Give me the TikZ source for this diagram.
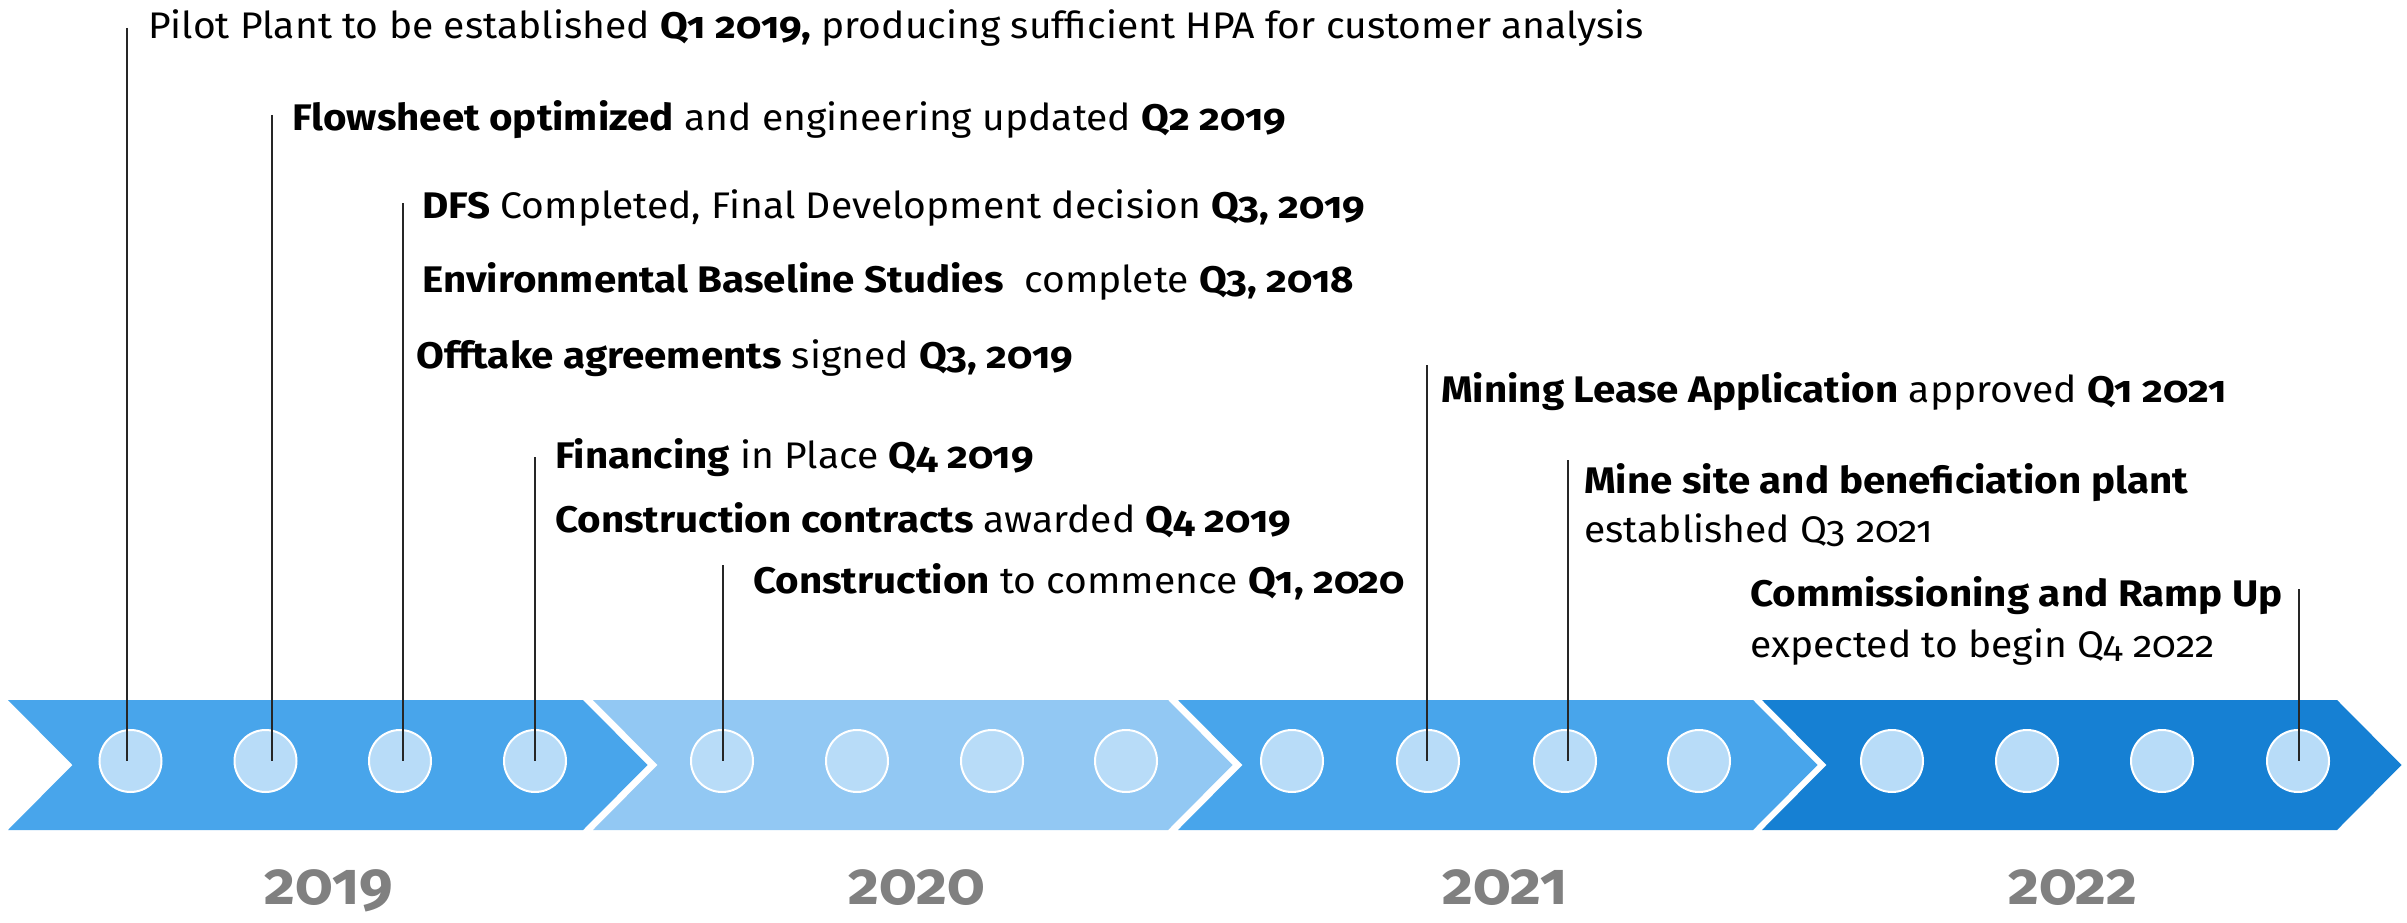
\documentclass[tikz,border=0pt]{standalone}
\usepackage{fontspec}
\setmainfont{Fira Sans}[Numbers=OldStyle, UprightFeatures={FakeStretch=1.055}, BoldFont={Fira Sans Bold}, BoldFeatures={FakeStretch=1.09}]
\newfontfamily\yrfont{Fira Sans Bold}[Numbers=OldStyle]
\begin{document}
\begin{tikzpicture}[x=1pt,y=-1pt,
  dot/.style={circle,fill=dotc,draw=white,line width=2pt,minimum size=62pt,inner sep=0pt},
  lead/.style={line width=1.5pt,draw=black!85},
  lbl/.style={anchor=base west,inner sep=0pt,font=\fontsize{37}{44}\selectfont},
  yr/.style={anchor=base,inner sep=0pt,text=yrc,font=\fontsize{60}{66}\selectfont\yrfont}]
\definecolor{cA}{RGB}{72,165,235}
\definecolor{cB}{RGB}{146,200,243}
\definecolor{cD}{RGB}{22,128,211}
\definecolor{dotc}{RGB}{184,220,248}
\definecolor{yrc}{RGB}{128,128,128}
\useasboundingbox (0,0) rectangle (2407,923);
\fill[white] (0,0) rectangle (2407,923);
% chevrons
\foreach \x/\c in {8/cA,593/cB,1178/cA,1762/cD}{
  \fill[\c] (\x,700) -- ({\x+575},700) -- ({\x+639.5},765) -- ({\x+575},830) -- (\x,830) -- ({\x+64.5},765) -- cycle;
}
% circles
\foreach \n/\x in {1/130.5,2/265.5,3/400,4/535,5/722,6/857,7/992,8/1126,9/1292,10/1428,11/1565,12/1699,13/1892,14/2027,15/2162,16/2298}{
  \node[dot] (c\n) at (\x,761) {};
}
% leader tops
\coordinate (t1) at (127,28);
\coordinate (t2) at (272,115);
\coordinate (t3) at (403,203);
\coordinate (t4) at (535,457);
\coordinate (t5) at (723,565);
\coordinate (t6) at (1427,365);
\coordinate (t7) at (1568,460);
\coordinate (t8) at (2299,589);
\draw[lead] (t1) -- (t1 |- c1.center);
\draw[lead] (t2) -- (t2 |- c2.center);
\draw[lead] (t3) -- (t3 |- c3.center);
\draw[lead] (t4) -- (t4 |- c4.center);
\draw[lead] (t5) -- (t5 |- c5.center);
\draw[lead] (t6) -- (t6 |- c10.center);
\draw[lead] (t7) -- (t7 |- c11.center);
\draw[lead] (t8) -- (t8 |- c16.center);
% labels
\node[lbl] (m1) at (148,39) {Pilot Plant to be established \textbf{Q1 2019,} producing sufficient HPA for customer analysis};
\node[lbl] (m2) at (292,131) {\textbf{Flowsheet optimized} and engineering updated \textbf{Q2 2019}};
\node[lbl] (m3) at (422,218) {\textbf{DFS} Completed, Final Development decision \textbf{Q3, 2019}};
\node[lbl] (m4) at (422,292) {\textbf{Environmental Baseline Studies}\ \ complete \textbf{Q3, 2018}};
\node[lbl] (m5) at (416,368) {\textbf{Offtake agreements} signed \textbf{Q3, 2019}};
\node[lbl] (m6) at (555,468) {\textbf{Financing} in Place \textbf{Q4 2019}};
\node[lbl] (m7) at (555,532) {\textbf{Construction contracts} awarded \textbf{Q4 2019}};
\node[lbl] (m8) at (753,593) {\textbf{Construction} to commence \textbf{Q1, 2020}};
\node[lbl] (m9) at (1441,402) {\textbf{Mining Lease Application} approved \textbf{Q1 2021}};
\node[lbl] (m10a) at (1584,493) {\textbf{Mine site and beneficiation plant}};
\node[lbl] (m10b) at (1584,542) {established Q3 2021};
\node[lbl] (m11a) at (1750,606) {\textbf{Commissioning and Ramp Up}};
\node[lbl] (m11b) at (1750,657) {expected to begin Q4 2022};
% years
\node[yr] (y1) at (329,904) {2019};
\node[yr] (y2) at (917,904) {2020};
\node[yr] (y3) at (1505,904) {2021};
\node[yr] (y4) at (2073,904) {2022};
\end{tikzpicture}
\end{document}
